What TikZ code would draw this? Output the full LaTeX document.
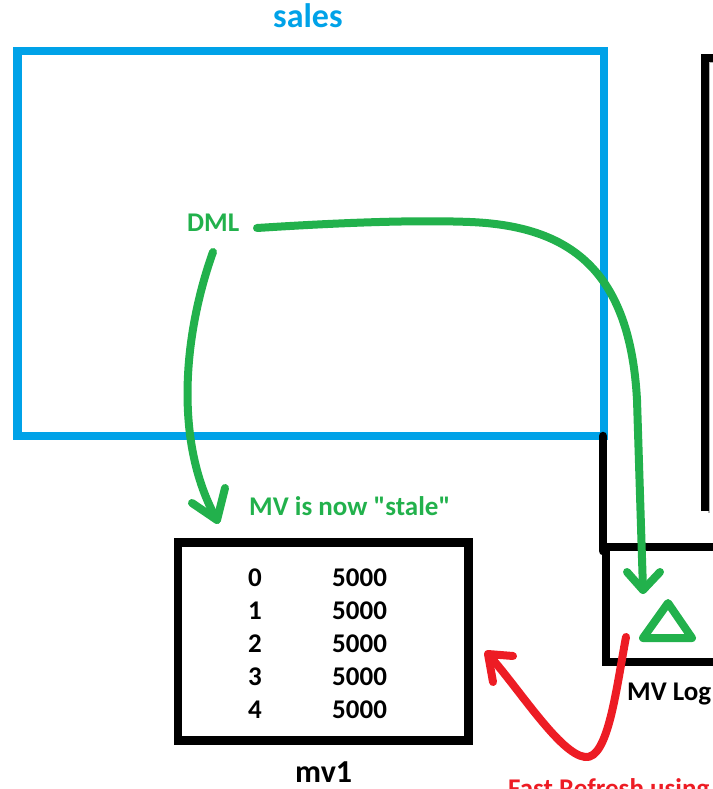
\documentclass[tikz,border=0pt]{standalone}
\usepackage{fontspec}
\setmainfont{Carlito}
\definecolor{paintblue}{HTML}{00A2E8}
\definecolor{paintgreen}{HTML}{22B14C}
\definecolor{paintred}{HTML}{ED1C24}
\newcommand{\lbl}[1]{\fontsize{#1}{#1}\selectfont\bfseries}
\tikzset{
  txt/.style={inner sep=0pt, anchor=base west},
  boxline/.style={line width=8.5pt, line join=miter},
  pen/.style={line width=8pt, line cap=round, line join=round},
}
\begin{document}
\begin{tikzpicture}[x=1pt,y=-1pt]
\useasboundingbox (0,0) rectangle (712,789);

% table "sales"
\draw[boxline, paintblue] (17.5,51) rectangle (604,436);
\node[txt, paintblue, font=\lbl{34}] (salesname) at (273,28) {sales};

% large table on the right, partly outside
\draw[line width=2pt, gray!60] (709,513) -- (709,62) -- (800,62);
\draw[boxline] (705,511) -- (705,58) -- (800,58);

% connector from sales to the MV log
\draw[line width=8.5pt, line cap=round] (603,436) -- (603,551);

% MV log
\draw[boxline] (800,547) -- (606,547) -- (606,662) -- (800,662);
\node[txt, font=\lbl{27}] (mvlog) at (627,700) {MV Log};
\draw[pen, paintgreen] (643,638) -- (668,603) -- (692,638) -- cycle;

% materialized view mv1
\draw[boxline] (178,542.5) rectangle (468.5,740.5);
\node[txt, font=\lbl{32}] (mvname) at (295,782) {mv1};
\foreach \k in {0,...,4}{
  \node[txt, font=\lbl{27}] (key\k) at (248,586+33*\k) {\k};
  \node[txt, font=\lbl{27}] (val\k) at (332,586+33*\k) {5000};
}

% DML and its effects
\node[txt, paintgreen, font=\lbl{27}] (dml) at (187,231) {DML};
\node[txt, paintgreen, font=\lbl{27}] (stale) at (249,515) {MV is now \textquotedbl stale\textquotedbl};

\coordinate (dmlA) at (213,252);
\coordinate (tipA) at (217,520);
\draw[pen, paintgreen] (dmlA) .. controls (185,330) and (172,440) .. (tipA);
\draw[pen, paintgreen] (192,503) -- (tipA) -- (225,488);

\coordinate (dmlB) at (257,228);
\coordinate (bendB) at (470,222);
\coordinate (tipB) at (643,590);
\draw[pen, paintgreen] (dmlB) .. controls (350,222) and (420,220) .. (bendB)
  .. controls (570,226) and (630,270) .. (637,400) -- (tipB);
\draw[pen, paintgreen] (627,572) -- (tipB) -- (660,572);

% fast refresh
\coordinate (logR) at (626,637);
\coordinate (tipR) at (488,654);
\draw[pen, paintred] (logR) .. controls (616,690) and (608,760) .. (585,757)
  .. controls (560,754) and (520,690) .. (tipR);
\draw[pen, paintred] (513,656) -- (tipR) -- (493,682);
\node[txt, paintred, font=\lbl{27}] (refresh) at (508,797) {Fast Refresh using MV Log};
\end{tikzpicture}
\end{document}
